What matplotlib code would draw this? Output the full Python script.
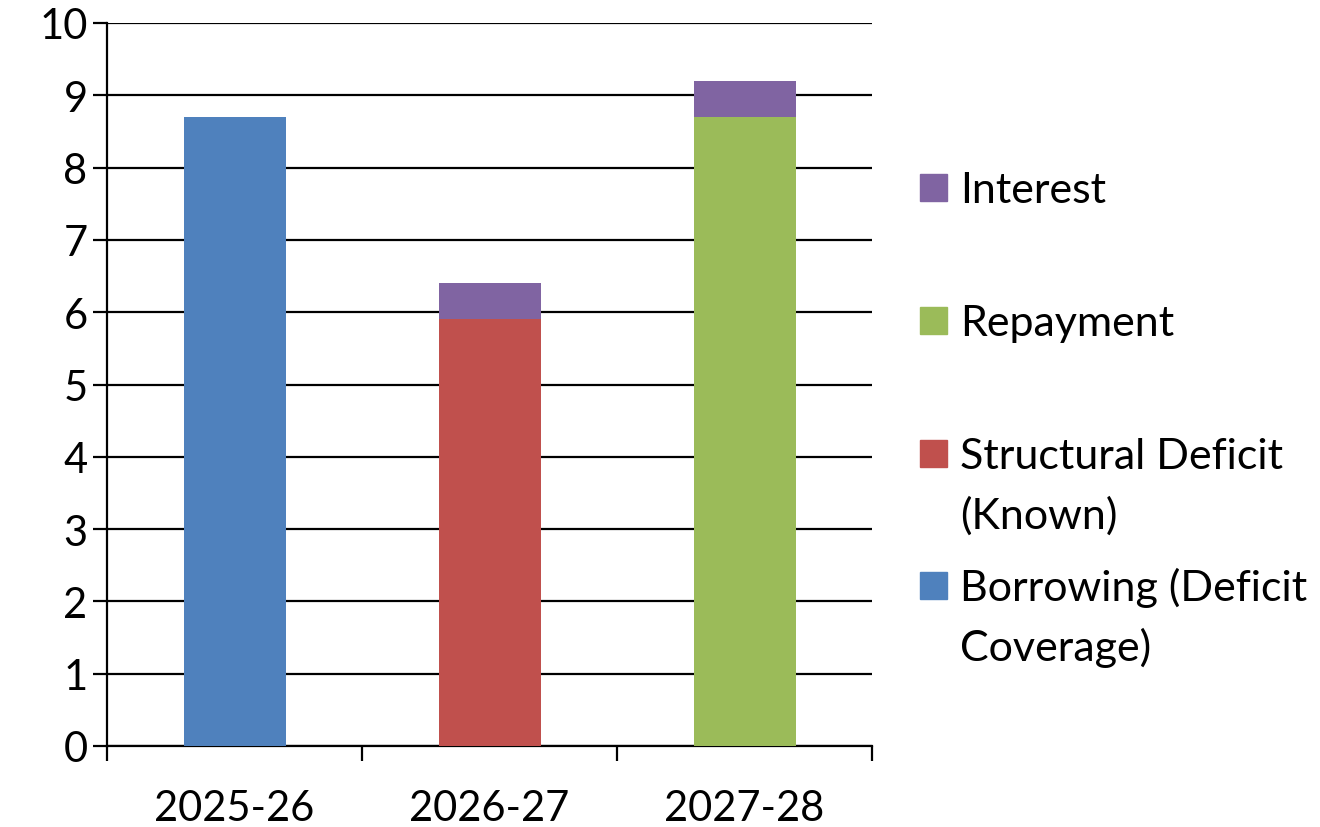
import matplotlib.pyplot as plt
from matplotlib.patches import Rectangle

# data
years = ["2025-26", "2026-27", "2027-28"]
borrowing = [8.7, 0, 0]
structural = [0, 5.9, 0]
repayment = [0, 0, 8.7]
interest = [0, 0.5, 0.5]

legend_labels = ["Interest", "Repayment", "Structural Deficit\n(Known)", "Borrowing (Deficit\nCoverage)"]
legend_colors = ["#8064A2", "#9BBB59", "#C0504D", "#4F81BD"]

plt.rcParams['font.family'] = ['Lato', 'DejaVu Sans']
W, H = 1320, 828
fig = plt.figure(figsize=(W / 100, H / 100), dpi=100)
ax = fig.add_axes([107 / W, 1 - 747 / H, (872 - 107) / W, (747 - 24) / H])

x = range(len(years))
base_low = [b + s + r for b, s, r in zip(borrowing, structural, repayment)]
ax.bar(x, borrowing, width=0.4, color="#4F81BD", zorder=3)
ax.bar(x, structural, width=0.4, color="#C0504D", zorder=3)
ax.bar(x, repayment, width=0.4, color="#9BBB59", zorder=3)
ax.bar(x, interest, width=0.4, bottom=base_low, color="#8064A2", zorder=3)

ax.set_xlim(-0.5, 2.5)
ax.set_ylim(0, 10)
ax.set_yticks(range(0, 11))
ax.yaxis.grid(True, color="black", linewidth=1.6, zorder=0)
ax.set_axisbelow(True)

ax.set_xticks(list(x))
ax.set_xticklabels(years)
ax.set_xticks([-0.5, 0.5, 1.5, 2.5], minor=True)
ax.tick_params(axis='x', which='major', length=0, pad=31, labelsize=30)
ax.tick_params(axis='x', which='minor', length=11, width=1.6, direction='out')
ax.tick_params(axis='y', length=10, width=1.6, pad=4, labelsize=30)

for side in ['top', 'right']:
    ax.spines[side].set_visible(False)
for side in ['left', 'bottom']:
    ax.spines[side].set_linewidth(1.6)

# legend drawn by hand to follow the uneven spacing of the original
centers = [189, 322, 485, 616]
first_line = [189, 322, 455, 587]
for lab, col, yc, yf in zip(legend_labels, legend_colors, centers, first_line):
    fig.patches.append(Rectangle((920 / W, 1 - (yf + 13) / H), 27 / W, 27 / H,
                                 color=col, transform=fig.transFigure))
    fig.text(960 / W, 1 - (yc + 2) / H, lab, fontsize=31, va='center', ha='left', linespacing=1.62)

fig.savefig("out.png", dpi=100)
